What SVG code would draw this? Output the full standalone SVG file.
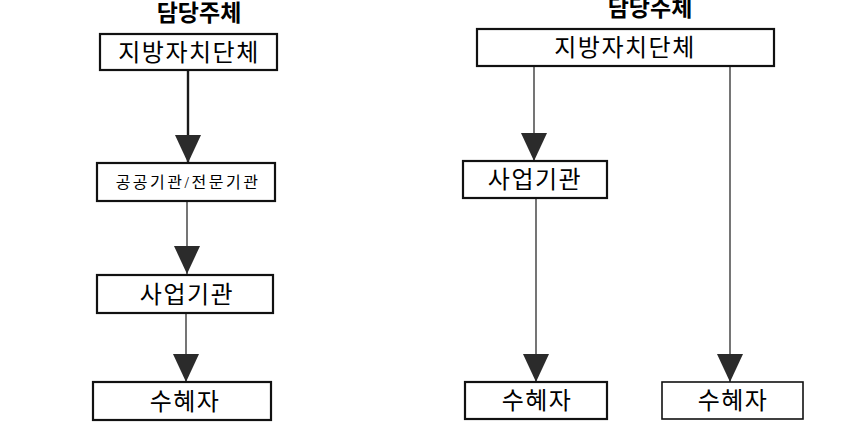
<svg xmlns="http://www.w3.org/2000/svg" width="867" height="445" viewBox="0 0 867 445">
<defs>
<style>
.title{font-family:"Liberation Sans","Noto Sans CJK KR",sans-serif;font-weight:bold;font-size:23px;fill:#000;text-anchor:middle}
.lbl{font-family:"Liberation Serif","Noto Sans CJK KR",serif;font-size:24px;letter-spacing:1.5px;fill:#000;text-anchor:middle}
.sm{font-size:16px;letter-spacing:2.5px}
.box{fill:#fff;stroke:#111;stroke-width:2.2}
.thin{stroke-width:1.6}
.ln{stroke:#1a1a1a;stroke-width:1.2;fill:none}
.thick{stroke-width:2.4}
</style>
<marker id="ah" markerUnits="userSpaceOnUse" markerWidth="28" markerHeight="26" refX="28" refY="13" orient="auto" viewBox="0 0 28 26">
<path d="M0,0 L28,13 L0,26 Z" fill="#2b2b2b"/>
</marker>
</defs>
<rect width="867" height="445" fill="#fff"/>
<text class="title" x="199" y="21">담당주체</text>
<text class="title" x="650" y="16">담당주체</text>
<g id="connectors">
<line class="ln thick" x1="188" y1="70" x2="188" y2="163" marker-end="url(#ah)"/>
<line class="ln" x1="187" y1="201" x2="187" y2="274" marker-end="url(#ah)"/>
<line class="ln" x1="186" y1="313" x2="186" y2="382" marker-end="url(#ah)"/>
<line class="ln" x1="534" y1="66" x2="534" y2="161" marker-end="url(#ah)"/>
<line class="ln" x1="536" y1="198" x2="536" y2="382" marker-end="url(#ah)"/>
<line class="ln" x1="730" y1="66" x2="730" y2="382" marker-end="url(#ah)"/>
</g>
<g id="L_jibang">
<rect class="box" x="100" y="34" width="177" height="36"/>
<text class="lbl" x="189" y="61">지방자치단체</text>
</g>
<g id="L_gonggong">
<rect class="box" x="97" y="163" width="178" height="38"/>
<text class="lbl sm" x="188" y="188">공공기관/전문기관</text>
</g>
<g id="L_saeop">
<rect class="box" x="97" y="275" width="176" height="38"/>
<text class="lbl" x="187" y="303">사업기관</text>
</g>
<g id="L_suhye">
<rect class="box" x="93" y="382" width="178" height="38"/>
<text class="lbl" x="185" y="410">수혜자</text>
</g>
<g id="R_jibang">
<rect class="box" x="477" y="29" width="297" height="37"/>
<text class="lbl" x="625" y="56">지방자치단체</text>
</g>
<g id="R_saeop">
<rect class="box" x="463" y="161" width="144" height="37"/>
<text class="lbl" x="535" y="188">사업기관</text>
</g>
<g id="R_suhye1">
<rect class="box" x="465" y="382" width="142" height="37"/>
<text class="lbl" x="537" y="409">수혜자</text>
</g>
<g id="R_suhye2">
<rect class="box thin" x="662" y="382" width="141" height="37"/>
<text class="lbl" x="733" y="409">수혜자</text>
</g>
</svg>
